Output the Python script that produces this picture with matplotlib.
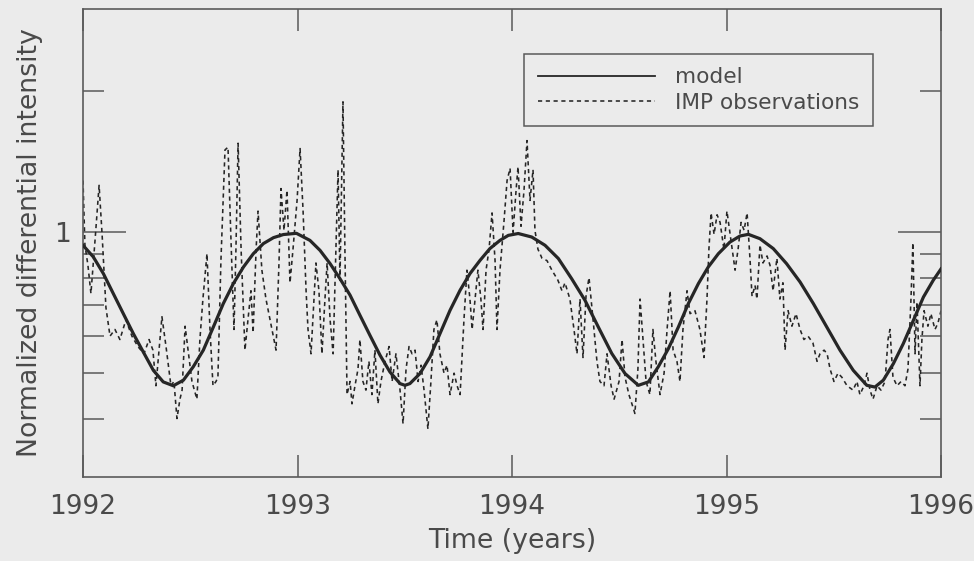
import matplotlib
matplotlib.use('Agg')
import matplotlib.pyplot as plt
from matplotlib.ticker import FixedLocator, FixedFormatter, NullFormatter

# ---------------- data ----------------
model_years = [
    1992.000, 1992.048, 1992.095, 1992.141, 1992.188, 1992.235, 1992.281, 1992.328,
    1992.374, 1992.421, 1992.468, 1992.514, 1992.561, 1992.608, 1992.654, 1992.701,
    1992.748, 1992.794, 1992.841, 1992.888, 1992.934, 1992.995, 1993.058, 1993.105,
    1993.152, 1993.198, 1993.245, 1993.291, 1993.338, 1993.385, 1993.431, 1993.478,
    1993.501, 1993.524, 1993.571, 1993.618, 1993.664, 1993.711, 1993.758, 1993.804,
    1993.851, 1993.897, 1993.944, 1993.983, 1994.029, 1994.092, 1994.154, 1994.216,
    1994.278, 1994.340, 1994.402, 1994.465, 1994.527, 1994.589, 1994.636, 1994.682,
    1994.729, 1994.776, 1994.822, 1994.869, 1994.915, 1994.962, 1995.016, 1995.063,
    1995.102, 1995.156, 1995.218, 1995.280, 1995.343, 1995.405, 1995.467, 1995.529,
    1995.591, 1995.654, 1995.692, 1995.731, 1995.778, 1995.824, 1995.871, 1995.918,
    1995.964, 1996.000]
model_values = [
    0.938, 0.886, 0.816, 0.740, 0.670, 0.607, 0.555, 0.507,
    0.479, 0.470, 0.483, 0.516, 0.560, 0.628, 0.704, 0.777,
    0.843, 0.900, 0.946, 0.974, 0.989, 0.995, 0.961, 0.915,
    0.857, 0.796, 0.734, 0.665, 0.602, 0.546, 0.503, 0.475,
    0.471, 0.475, 0.499, 0.542, 0.607, 0.681, 0.752, 0.816,
    0.871, 0.923, 0.961, 0.985, 0.994, 0.977, 0.938, 0.879,
    0.796, 0.716, 0.628, 0.551, 0.499, 0.471, 0.479, 0.516,
    0.564, 0.628, 0.704, 0.777, 0.843, 0.900, 0.953, 0.982,
    0.990, 0.969, 0.923, 0.857, 0.783, 0.704, 0.628, 0.560,
    0.507, 0.471, 0.467, 0.483, 0.524, 0.578, 0.648, 0.727,
    0.790, 0.835]

obs_years = [
    1992.000, 1992.009, 1992.023, 1992.037, 1992.056, 1992.075, 1992.089, 1992.107,
    1992.126, 1992.149, 1992.172, 1992.200, 1992.228, 1992.256, 1992.284, 1992.308,
    1992.326, 1992.340, 1992.359, 1992.368, 1992.387, 1992.410, 1992.424, 1992.438,
    1992.452, 1992.462, 1992.476, 1992.490, 1992.508, 1992.531, 1992.545,
    1992.559, 1992.578, 1992.592, 1992.606, 1992.620, 1992.629, 1992.643, 1992.662,
    1992.676, 1992.690, 1992.704, 1992.713, 1992.723, 1992.737, 1992.755, 1992.769,
    1992.783, 1992.793, 1992.807, 1992.816, 1992.834, 1992.853, 1992.872, 1992.900,
    1992.914, 1992.923, 1992.937, 1992.951, 1992.965, 1992.979, 1992.998, 1993.012,
    1993.026, 1993.040,
    1993.049, 1993.063, 1993.077, 1993.086, 1993.100, 1993.114, 1993.128, 1993.138,
    1993.152, 1993.166, 1993.179, 1993.189, 1993.198, 1993.212, 1993.221, 1993.231,
    1993.245, 1993.254, 1993.268, 1993.282, 1993.291, 1993.305, 1993.319, 1993.333,
    1993.347, 1993.361, 1993.375, 1993.389, 1993.408, 1993.427, 1993.441, 1993.459,
    1993.478, 1993.492, 1993.506, 1993.520, 1993.534, 1993.548, 1993.562, 1993.576,
    1993.590, 1993.608, 1993.622, 1993.636, 1993.650, 1993.664, 1993.683, 1993.697,
    1993.711, 1993.730, 1993.744, 1993.758,
    1993.776, 1993.790, 1993.804, 1993.814, 1993.828, 1993.841, 1993.855, 1993.865,
    1993.879, 1993.893, 1993.907, 1993.921, 1993.930, 1993.944, 1993.963, 1993.977,
    1993.991, 1994.005, 1994.019, 1994.028, 1994.042, 1994.056, 1994.070, 1994.084,
    1994.098, 1994.107, 1994.121, 1994.140,
    1994.163, 1994.186, 1994.214, 1994.233, 1994.247, 1994.270, 1994.289, 1994.303,
    1994.317, 1994.331, 1994.345, 1994.359, 1994.378, 1994.396, 1994.410, 1994.429,
    1994.443, 1994.462, 1994.476, 1994.499, 1994.513, 1994.527, 1994.545, 1994.559,
    1994.573, 1994.587, 1994.597, 1994.611, 1994.625, 1994.643,
    1994.657, 1994.671, 1994.690, 1994.709, 1994.723, 1994.737, 1994.751, 1994.769,
    1994.783, 1994.797, 1994.816, 1994.830, 1994.853, 1994.876, 1994.895, 1994.909,
    1994.918, 1994.928, 1994.942, 1994.956, 1994.970, 1994.988, 1995.002, 1995.021,
    1995.040, 1995.054, 1995.068, 1995.082, 1995.096, 1995.110, 1995.119, 1995.133,
    1995.142,
    1995.156, 1995.170, 1995.189, 1995.203, 1995.217, 1995.235, 1995.249, 1995.263,
    1995.273, 1995.287, 1995.305, 1995.324, 1995.343, 1995.361, 1995.380, 1995.403,
    1995.422, 1995.436, 1995.455, 1995.469, 1995.483, 1995.501, 1995.520, 1995.538,
    1995.562, 1995.590, 1995.608, 1995.622, 1995.641, 1995.655, 1995.669, 1995.683,
    1995.702, 1995.720, 1995.739, 1995.753, 1995.762, 1995.776, 1995.795, 1995.814,
    1995.832, 1995.846, 1995.860, 1995.869, 1995.879, 1995.888, 1995.902, 1995.911,
    1995.921, 1995.939, 1995.953, 1995.972, 1995.986, 1996.000]
obs_values = [
    1.29, 0.94, 0.85, 0.74, 0.96, 1.26, 0.99, 0.69,
    0.60, 0.62, 0.59, 0.65, 0.60, 0.57, 0.55, 0.59,
    0.56, 0.47, 0.59, 0.66, 0.57, 0.47, 0.48, 0.40,
    0.44, 0.46, 0.63, 0.56, 0.48, 0.44, 0.59,
    0.72, 0.90, 0.62, 0.47, 0.48, 0.49, 0.87, 1.50,
    1.52, 0.96, 0.62, 0.92, 1.55, 0.92, 0.56, 0.65,
    0.75, 0.61, 0.92, 1.11, 0.83, 0.72, 0.65, 0.56,
    0.87, 1.24, 1.01, 1.23, 0.78, 0.92, 1.17, 1.51,
    1.11, 0.75,
    0.62, 0.55, 0.72, 0.86, 0.75, 0.55, 0.72, 0.86,
    0.65, 0.55, 0.92, 1.36, 0.79, 1.90, 0.92, 0.45,
    0.48, 0.43, 0.47, 0.51, 0.59, 0.48, 0.46, 0.53,
    0.45, 0.56, 0.43, 0.48, 0.53, 0.57, 0.48, 0.55,
    0.46, 0.39, 0.51, 0.57, 0.55, 0.56, 0.48, 0.52,
    0.46, 0.38, 0.48, 0.62, 0.65, 0.55, 0.50, 0.52,
    0.45, 0.50, 0.47, 0.45,
    0.65, 0.83, 0.72, 0.62, 0.72, 0.83, 0.72, 0.62,
    0.83, 0.92, 1.10, 0.87, 0.62, 0.83, 1.06, 1.29,
    1.37, 1.00, 1.23, 1.38, 1.03, 1.23, 1.57, 1.17,
    1.36, 1.01, 0.92, 0.88,
    0.87, 0.83, 0.79, 0.75, 0.78, 0.72, 0.62, 0.55,
    0.72, 0.54, 0.73, 0.80, 0.65, 0.53, 0.48, 0.47,
    0.55, 0.47, 0.44, 0.48, 0.59, 0.49, 0.45, 0.43,
    0.41, 0.51, 0.72, 0.59, 0.48, 0.45,
    0.62, 0.53, 0.45, 0.50, 0.62, 0.75, 0.56, 0.53,
    0.48, 0.62, 0.75, 0.67, 0.68, 0.62, 0.54, 0.72,
    0.92, 1.10, 0.99, 1.09, 1.05, 0.92, 1.11, 0.96,
    0.83, 0.92, 1.05, 1.01, 1.10, 0.87, 0.73, 0.77,
    0.72,
    0.94, 0.86, 0.89, 0.85, 0.75, 0.88, 0.72, 0.78,
    0.56, 0.68, 0.63, 0.67, 0.62, 0.59, 0.60, 0.58,
    0.53, 0.55, 0.56, 0.55, 0.51, 0.48, 0.50, 0.49,
    0.47, 0.46, 0.48, 0.45, 0.47, 0.50, 0.46, 0.44,
    0.47, 0.46, 0.48, 0.59, 0.62, 0.49, 0.47, 0.48,
    0.47, 0.51, 0.72, 0.95, 0.55, 0.71, 0.47, 0.59,
    0.68, 0.63, 0.67, 0.62, 0.64, 0.68]

x_ticks = [1992, 1993, 1994, 1995, 1996]
x_tick_labels = ['1992', '1993', '1994', '1995', '1996']
y_major_ticks = [1]
y_major_labels = ['1']
y_minor_ticks = [0.4, 0.5, 0.6, 0.7, 0.8, 0.9, 2]
series_labels = ['model', 'IMP observations']
x_label = 'Time (years)'
y_label = 'Normalized differential intensity'

# ---------------- style ----------------
plt.rcParams['lines.scale_dashes'] = False
plt.rcParams['font.family'] = ['DejaVu Sans']
paper = '#ebebeb'
ink = '#262626'
frame_col = '#5a5a5a'
text_col = '#4a4a4a'

fig = plt.figure(figsize=(9.74, 5.61), dpi=100, facecolor=paper)
ax = fig.add_axes([83 / 974, 1 - 477 / 561, 858 / 974, 468 / 561])
ax.set_facecolor(paper)

ax.plot(obs_years, obs_values, color=ink, lw=1.15, ls=(0, (3.0, 2.6)),
        label=series_labels[1], zorder=2)
ax.plot(model_years, model_values, color=ink, lw=2.3, label=series_labels[0],
        solid_joinstyle='round', zorder=3)

ax.set_yscale('log')
ax.set_xlim(1992, 1996)
ax.set_ylim(0.3, 3.0)

ax.xaxis.set_major_locator(FixedLocator(x_ticks))
ax.xaxis.set_major_formatter(FixedFormatter(x_tick_labels))
ax.xaxis.set_minor_locator(FixedLocator([]))
ax.yaxis.set_major_locator(FixedLocator(y_major_ticks))
ax.yaxis.set_major_formatter(FixedFormatter(y_major_labels))
ax.yaxis.set_minor_locator(FixedLocator(y_minor_ticks))
ax.yaxis.set_minor_formatter(NullFormatter())

ax.tick_params(axis='x', which='major', direction='in', length=16, width=1.1,
               color=frame_col, top=True, bottom=True, labelsize=19.0,
               labelcolor=text_col, pad=12)
ax.tick_params(axis='y', which='major', direction='in', length=31, width=1.1,
               color=frame_col, left=True, right=True, labelsize=19.0,
               labelcolor=text_col, pad=9)
ax.tick_params(axis='y', which='minor', direction='in', length=15, width=1.1,
               color=frame_col, left=True, right=True)

for sp in ax.spines.values():
    sp.set_color(frame_col)
    sp.set_linewidth(1.2)

ax.set_xlabel(x_label, fontsize=19.3, color=text_col)
ax.set_ylabel(y_label, fontsize=19.3, color=text_col)
ax.xaxis.set_label_coords(0.5, -0.108)
ax.yaxis.set_label_coords(-0.047, 0.5)

handles, labels = ax.get_legend_handles_labels()
order = [1, 0]
leg = ax.legend([handles[i] for i in order], [labels[i] for i in order],
                loc='upper right', bbox_to_anchor=((873 - 83) / 858, (477 - 54) / 468),
                borderaxespad=0, fontsize=15.6, handlelength=5.44, handletextpad=0.92,
                labelspacing=0.25, borderpad=0.62, fancybox=False, framealpha=1,
                facecolor=paper, edgecolor=frame_col, labelcolor=text_col)
leg.get_frame().set_linewidth(1.1)
leg.get_lines()[0].set_linewidth(1.3)

fig.savefig('out.png', dpi=100, facecolor=paper)
